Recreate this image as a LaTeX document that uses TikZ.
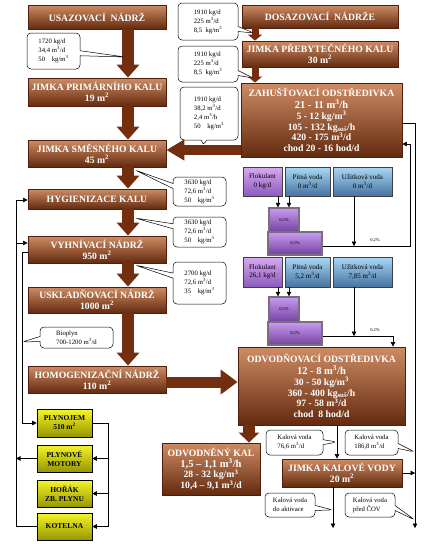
\documentclass[tikz,border=0pt]{standalone}
\usepackage{fontspec}
\setmainfont{Liberation Serif}
\usetikzlibrary{arrows.meta,shapes.callouts,calc}
\definecolor{brtop}{RGB}{205,140,100}
\definecolor{brbot}{RGB}{100,42,15}
\definecolor{brline}{RGB}{80,30,10}
\definecolor{brarrow}{RGB}{115,45,15}
\definecolor{yeltop}{RGB}{245,245,40}
\definecolor{yelbot}{RGB}{150,150,0}
\definecolor{purtop}{RGB}{215,170,240}
\definecolor{purbot}{RGB}{140,90,190}
\definecolor{blutop}{RGB}{170,215,245}
\definecolor{blubot}{RGB}{70,115,160}
\definecolor{tanktop}{RGB}{200,155,240}
\definecolor{tankbot}{RGB}{115,65,160}
\definecolor{tankline}{RGB}{120,110,125}
\newcommand{\sq}{\textsuperscript{2}}
\newcommand{\cu}{\textsuperscript{3}}
\newcommand{\numf}{\fontsize{10.5}{11.4}\selectfont}
\newcommand{\numg}{\fontsize{10.5}{12}\selectfont}
\begin{document}
\begin{tikzpicture}[x=1pt,y=-1pt,
 brownbox/.style={draw=brline, line width=0.8pt, top color=brtop, bottom color=brbot, text=white,
   font=\bfseries\fontsize{9.7}{10.8}\selectfont, align=center, inner sep=0pt},
 gasbox/.style={draw=black, line width=0.6pt, top color=yeltop, bottom color=yelbot,
   font=\bfseries\fontsize{7.5}{9}\selectfont, align=center, inner sep=0pt, minimum width=55pt},
 flokbox/.style={draw=black!75, line width=0.6pt, top color=purtop, bottom color=purbot,
   font=\fontsize{7}{8.5}\selectfont, align=center, inner sep=0pt},
 waterbox/.style={draw=black!75, line width=0.6pt, top color=blutop, bottom color=blubot,
   font=\fontsize{7}{8.5}\selectfont, align=center, inner sep=0pt},
 tank/.style={draw=tankline, line width=1.4pt, top color=tanktop, bottom color=tankbot,
   font=\fontsize{4.5}{5}\selectfont, inner sep=0pt},
 pct/.style={font=\fontsize{4.5}{5}\selectfont, inner sep=0pt},
 note/.style={rectangle callout, draw=black, fill=white, line width=0.5pt, rounded corners=4pt,
   callout pointer width=5pt, font=\fontsize{6.7}{9}\selectfont, align=left, inner sep=0pt},
 bigarrow/.style={draw=brarrow, line width=12pt, -{Triangle[width=22pt,length=13pt]}},
 smallarrow/.style={draw=brarrow, line width=7pt, -{Triangle[width=14pt,length=6pt]}},
 sidearrow/.style={draw=brarrow, line width=10pt, -{Triangle[width=20pt,length=18pt]}},
 thinline/.style={draw=black, line width=0.6pt},
 thinarrow/.style={draw=black, line width=0.6pt, -{Triangle[length=4.5pt,width=4.5pt]}}
]
\fill[white] (0,0) rectangle (425,544);
\useasboundingbox (0,0) rectangle (425,544);

% helper coordinates
\coordinate (AX) at (128,0);
\coordinate (AR) at (255,0);
\coordinate (AZ) at (0,150);
\coordinate (AH) at (0,382);
\coordinate (AO) at (249,0);

% main column
\node[brownbox, minimum width=138pt, minimum height=24pt] (usaz) at (97,17) {USAZOVACÍ\ \ NÁDRŽ};
\node[brownbox, minimum width=138pt, minimum height=28pt] (jprim) at (97,92) {JIMKA PRIMÁRNÍHO KALU\\19 m\sq};
\node[brownbox, minimum width=138pt, minimum height=27pt] (jsmes) at (97,153.5) {JIMKA SMĚSNÉHO KALU\\45 m\sq};
\node[brownbox, minimum width=138pt, minimum height=20pt] (hyg) at (97,199) {HYGIENIZACE KALU};
\node[brownbox, minimum width=138pt, minimum height=27pt] (vyhn) at (97,249.5) {VYHNÍVACÍ NÁDRŽ\\950 m\sq};
\node[brownbox, minimum width=138pt, minimum height=26pt] (uskl) at (97,300) {USKLADŇOVACÍ NÁDRŽ\\1000 m\sq};
\node[brownbox, minimum width=138pt, minimum height=27pt] (homog) at (97,379.5) {HOMOGENIZAČNÍ NÁDRŽ\\110 m\sq};

% right column
\node[brownbox, minimum width=156pt, minimum height=23pt] (dosaz) at (320,16.5) {DOSAZOVACÍ\ \ NÁDRŽE};
\node[brownbox, minimum width=156pt, minimum height=26pt] (jpreb) at (320,54) {JIMKA PŘEBYTEČNÉHO KALU\\30 m\sq};
\node[brownbox, minimum width=161pt, minimum height=74pt] (zahus) at (321.5,120) {ZAHUŠŤOVACÍ ODSTŘEDIVKA\\[1pt]
  \numf 21 - 11 m\cu/h\\5 - 12 kg/m\cu\\105 - 132 kg\textsubscript{suš}/h\\420 - 175 m\cu/d\\chod 20 - 16 hod/d};
\node[brownbox, minimum width=167pt, minimum height=78pt] (odvod) at (321.5,386) {ODVODŇOVACÍ ODSTŘEDIVKA\\[1pt]
  \numg 12 - 8 m\cu/h\\30 - 50 kg/m\cu\\360 - 400 kg\textsubscript{suš}/h\\97 - 58 m\cu/d\\chod\ \ 8 hod/d};
\node[brownbox, minimum width=98pt, minimum height=52pt] (odvkal) at (211,469) {ODVODNĚNÝ KAL\\
  \numf 1,5 -- 1,1 m\cu/h\\28 - 32 kg/m\cu\\10,4 -- 9,1 m\cu/d};
\node[brownbox, minimum width=120pt, minimum height=28pt] (jkv) at (342,473) {JIMKA KALOVÉ VODY\\20 m\sq};

% gas boxes
\node[gasbox, minimum height=28pt] (pj) at (64.5,423) {PLYNOJEM\\510 m\sq};
\node[gasbox, minimum height=27pt] (pm) at (64.5,458.5) {PLYNOVÉ\\MOTORY};
\node[gasbox, minimum height=27pt] (hor) at (64.5,493.5) {HOŘÁK\\ZB. PLYNU};
\node[gasbox, minimum height=27pt] (kot) at (64.5,526.5) {KOTELNA};

% polymer group 1
\node[flokbox, minimum width=39pt, minimum height=29pt] (fk1) at (262.5,181.5) {Flokulant\\0 kg/d};
\node[waterbox, minimum width=45pt, minimum height=29pt] (pv1) at (307.5,181.5) {Pitná voda\\0 m\cu/d};
\node[waterbox, minimum width=59pt, minimum height=29pt] (uv1) at (362.5,181.5) {Užitková voda\\0 m\cu/d};
\node[tank, minimum width=54pt, minimum height=23pt] (t1b) at (295,243.5) {0,5\%};
\node[tank, minimum width=30pt, minimum height=24pt] (t1s) at (284,220) {0,5\%};
% polymer group 2
\node[flokbox, minimum width=39pt, minimum height=30pt] (fk2) at (262.5,272) {Flokulant\\26,1 kg/d};
\node[waterbox, minimum width=45pt, minimum height=30pt] (pv2) at (307.5,272) {Pitná voda\\5,2 m\cu/d};
\node[waterbox, minimum width=59pt, minimum height=30pt] (uv2) at (362.5,272) {Užitková voda\\7,85 m\cu/d};
\node[tank, minimum width=54pt, minimum height=23pt] (t2b) at (295,333.5) {0,5\%};
\node[tank, minimum width=30pt, minimum height=25pt] (t2s) at (284,309.5) {0,5\%};
\node[pct] (p1) at (375,240) {0,2\%};
\node[pct] (p2) at (375,330) {0,2\%};

% block arrows
\draw[bigarrow] (usaz.south -| AX) -- (jprim.north -| AX);
\draw[bigarrow] (jprim.south -| AX) -- (jsmes.north -| AX);
\draw[bigarrow] (jsmes.south -| AX) -- (hyg.north -| AX);
\draw[bigarrow] (hyg.south -| AX) -- (vyhn.north -| AX);
\draw[bigarrow] (vyhn.south -| AX) -- (uskl.north -| AX);
\draw[bigarrow] (uskl.south -| AX) -- (homog.north -| AX);
\draw[smallarrow] (dosaz.south -| AR) -- (jpreb.north -| AR);
\draw[smallarrow] (jpreb.south -| AR) -- (zahus.north -| AR);
\draw[sidearrow] (zahus.west |- AZ) -- (jsmes.east |- AZ);
\draw[draw=brarrow, line width=11pt, -{Triangle[width=24pt,length=17pt]}] (homog.east |- AH) -- (odvod.west |- AH);
\draw[draw=brarrow, line width=12pt, -{Triangle[width=20pt,length=10pt]}] (odvod.south -| AO) -- (odvkal.north -| AO);

% thin connectors, polymer
\coordinate (F1) at (278,0);
\coordinate (P1) at (289,0);
\draw[thinarrow] (fk1.south -| F1) -- (t1s.north -| F1);
\draw[thinarrow] (pv1.south -| P1) -- (t1s.north -| P1);
\draw[thinarrow] (fk2.south -| F1) -- (t2s.north -| F1);
\draw[thinarrow] (pv2.south -| P1) -- (t2s.north -| P1);
\coordinate (T1) at (410,246);
\coordinate (T1u) at (410,144);
\draw[thinarrow] (t1b.east |- T1) -- (T1) -- (T1u) -- (zahus.east |- T1u);
\coordinate (U1) at (354,246);
\draw[thinarrow] (uv1.south -| U1) -- (U1);
\coordinate (T2) at (393,336);
\draw[thinarrow] (t2b.east |- T2) -- (T2) -- (odvod.north -| T2);
\coordinate (U2) at (354,336);
\draw[thinarrow] (uv2.south -| U2) -- (U2);

% right bus
\coordinate (RB) at (415,123);
\coordinate (RBe) at (415,528);
\draw[thinarrow] (zahus.east |- RB) -- (RB) -- (RBe);
\draw[thinarrow] (jkv.east) -- (jkv.east -| RB);
\coordinate (K1) at (337,0);
\draw[thinarrow] (odvod.south -| K1) -- (jkv.north -| K1);
\coordinate (K2) at (333,528);
\draw[thinarrow] (jkv.south -| K2) -- (K2);

% left side
\coordinate (L1) at (16,200);
\coordinate (L2) at (16,243);
\coordinate (L3) at (22,252);
\draw[thinline] (kot.west) -| (L1);
\draw[thinarrow] (L1) -- (hyg.west |- L1);
\draw[thinarrow] (L2) -- (vyhn.west |- L2);
\draw[thinarrow] (pm.west) -- (pm.west -| L1);
\draw[thinarrow] (vyhn.west |- L3) -- (L3) |- (pj.west);
\coordinate (G1) at (108,0);
\draw[thinline] (pj.east) -| (kot.east -| G1);
\draw[thinarrow] (pm.east -| G1) -- (pm.east);
\draw[thinarrow] (hor.east -| G1) -- (hor.east);
\draw[thinarrow] (kot.east -| G1) -- (kot.east);

% callouts
\node[note, minimum width=53pt, minimum height=36pt, callout absolute pointer={(125,57)}] (c1) at (53.5,51) {1720 kg/d\\34,4 m\cu/d\\50\quad kg/m\cu};
\node[note, minimum width=60pt, minimum height=37pt, callout absolute pointer={(254,33)}] (c2) at (208,21.5) {1910 kg/d\\225 m\cu/d\\8,5\ \ kg/m\cu};
\node[note, minimum width=60pt, minimum height=36pt, callout absolute pointer={(253,78)}] (c3) at (208,64) {1910 kg/d\\225 m\cu/d\\8,5\ \ kg/m\cu};
\node[note, minimum width=58pt, minimum height=53pt, callout absolute pointer={(203,146)}] (c4) at (209,113.5) {1910 kg/d\\38,2 m\cu/d\\2,4 m\cu/h\\50\quad kg/m\cu};
\node[note, minimum width=53pt, minimum height=29pt, callout absolute pointer={(135,170)}] (c5) at (199.5,191.5) {3630 kg/d\\72,6 m\cu/d\\50\quad kg/m\cu};
\node[note, minimum width=53pt, minimum height=30pt, callout absolute pointer={(135,218)}] (c6) at (199.5,232) {3630 kg/d\\72,6 m\cu/d\\50\quad kg/m\cu};
\node[note, minimum width=53pt, minimum height=42pt, callout absolute pointer={(135,265)}] (c7) at (199.5,283) {2700 kg/d\\72,6 m\cu/d\\35\quad kg/m\cu};
\node[note, minimum width=73pt, minimum height=21pt, callout absolute pointer={(22,342)}] (c8) at (76.5,337.5) {Bioplyn\\700-1200 m\cu/d};
\node[note, minimum width=57pt, minimum height=25pt, callout absolute pointer={(337,442)}] (c9) at (294.5,442.5) {Kalová voda\\76,6 m\cu/d};
\node[note, minimum width=53pt, minimum height=25pt, callout absolute pointer={(415,452)}] (c10) at (371.5,442.5) {Kalová voda\\186,8 m\cu/d};
\node[note, minimum width=50pt, minimum height=24pt, callout absolute pointer={(333,510)}] (c11) at (290,505) {Kalová voda\\do aktivace};
\node[note, minimum width=50pt, minimum height=24pt, callout absolute pointer={(415,520)}] (c12) at (370,505) {Kalová voda\\před ČOV};
\end{tikzpicture}
\end{document}
